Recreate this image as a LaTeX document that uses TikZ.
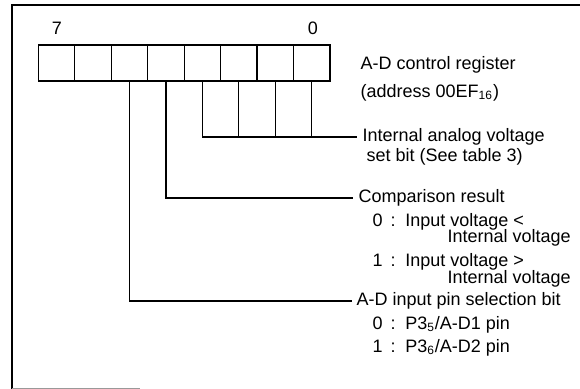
\documentclass[tikz,border=0pt]{standalone}
\usepackage{fontspec}
\setmainfont{Liberation Sans}
\usetikzlibrary{positioning}

\begin{document}
\begin{tikzpicture}[x=0.5pt,y=-0.5pt,line width=0.6pt,
  bit cell/.style={draw,minimum width=18.2pt,minimum height=18pt,inner sep=0pt},
  label text/.style={anchor=west,inner sep=0pt,font=\fontsize{9}{10}\selectfont},
  lead text/.style={label text,inner xsep=#1}]
    \useasboundingbox (0,0) rectangle (580,389);
    % frame
    \draw[line width=1.4pt] (12,389) -- (12,5) -- (580,5);
    \draw[line width=0.4pt,black!40] (12,388) -- (140,388);
    % register, bit 7 on the left
    \foreach \b in {0,...,7}
      \node[bit cell] (b\b) at ({311.7-36.45*\b},63) {};
    \node[label text,anchor=center] (msb) at (57,28) {7};
    \node[label text,anchor=center] (lsb) at (313,28) {0};
    \node[label text] (reg) at (360,65) {A-D control register};
    \node[label text] (addr) at (360,93) {(address 00EF\textsubscript{16})};
    % bits 0-3
    \node[lead text=2.5pt] (ianalog) at (357,137) {Internal analog voltage};
    \node[label text] (ianalog2) at (366,157) {set bit (See table 3)};
    \draw (b3.south) |- (ianalog.west);
    \foreach \b in {0,1,2}
      \draw (b\b.south) -- (b\b.south |- ianalog.west);
    % bit 4
    \node[lead text=2.5pt] (cmp) at (353,198) {Comparison result};
    \node[label text] (cmp0) at (372,222) {0 \,:\, Input voltage <};
    \node[label text] (cmp0b) at (447,238) {Internal voltage};
    \node[label text] (cmp1) at (372,262) {1 \,:\, Input voltage >};
    \node[label text] (cmp1b) at (447,279) {Internal voltage};
    \draw (b4.south) |- (cmp.west);
    % bit 5
    \node[lead text=2pt] (pinsel) at (352,301) {A-D input pin selection bit};
    \node[label text] (pin0) at (372,325) {0 \,:\, P3\textsubscript{5}/A-D1 pin};
    \node[label text] (pin1) at (372,348) {1 \,:\, P3\textsubscript{6}/A-D2 pin};
    \draw (b5.south) |- (pinsel.west);
\end{tikzpicture}
\end{document}
